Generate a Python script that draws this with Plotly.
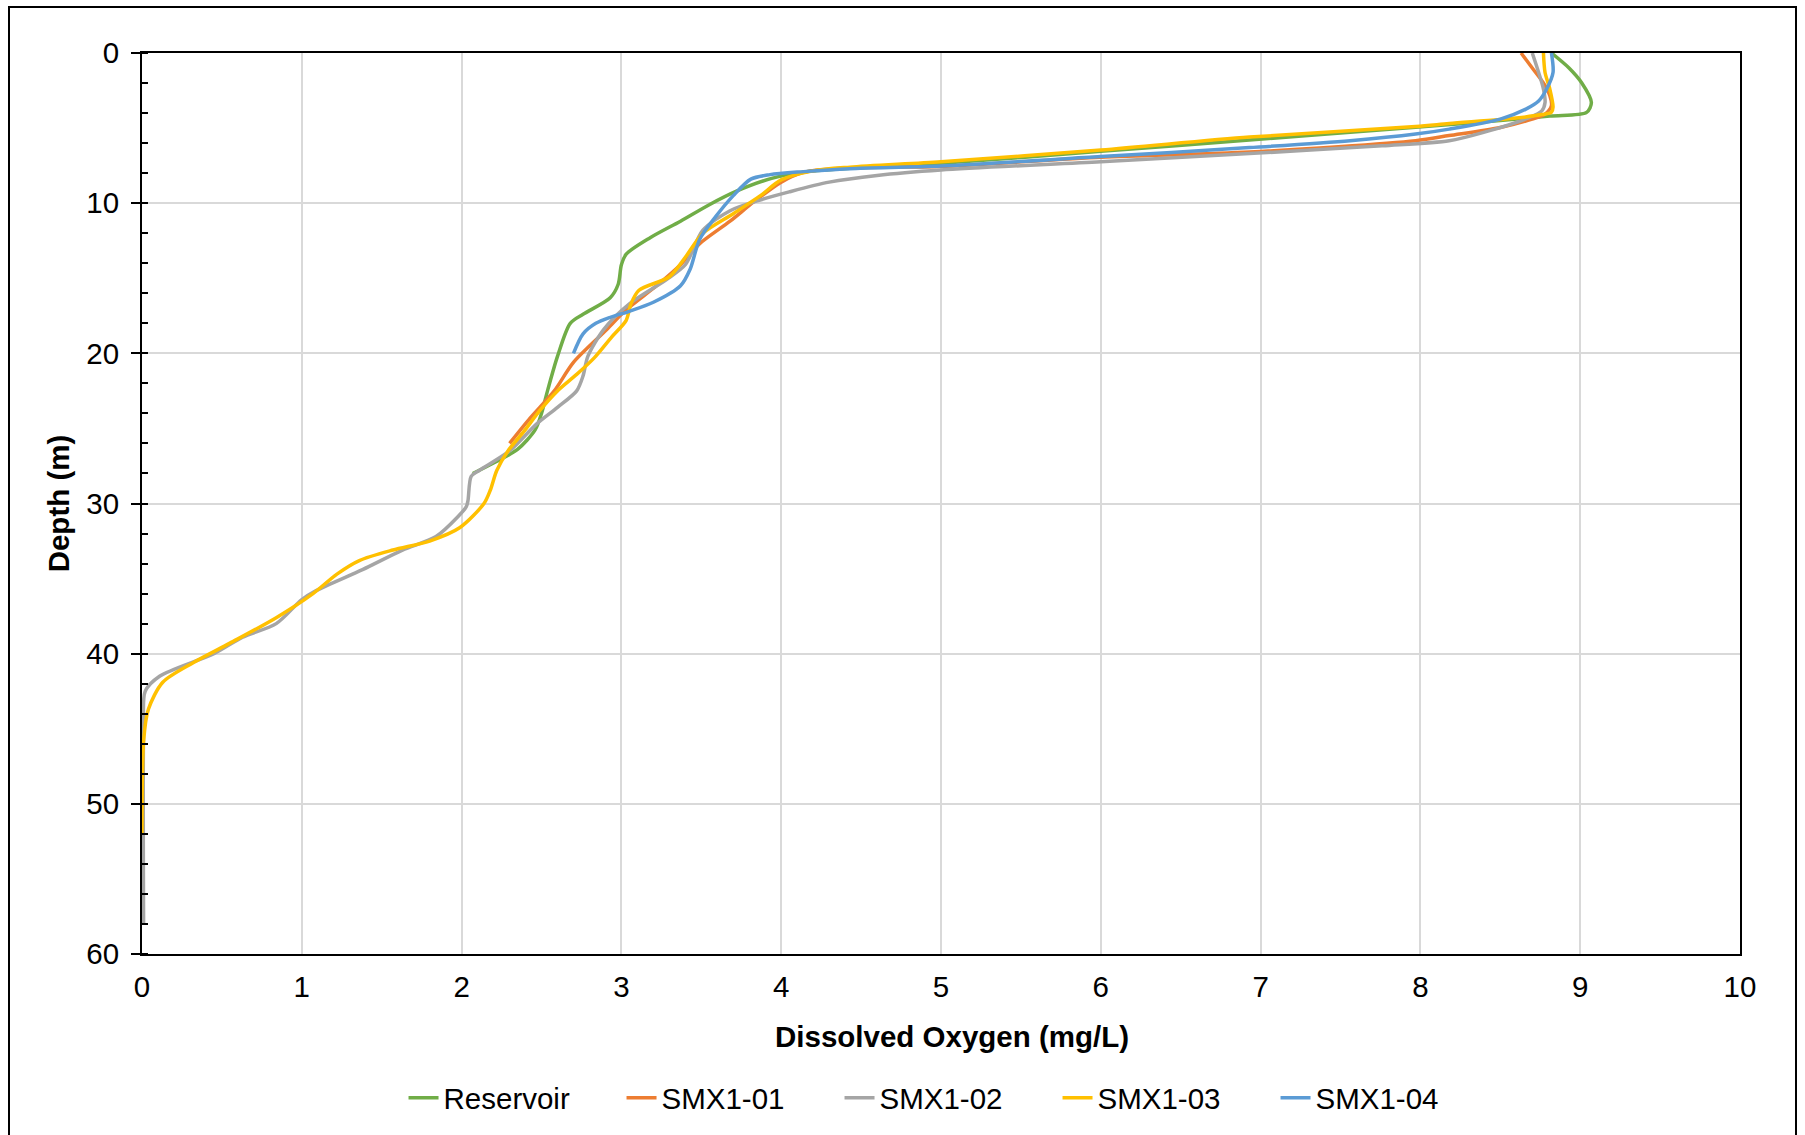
import plotly.graph_objects as go

# ---- data (DO mg/L, depth m) ----
res_do = [8.82, 8.93, 9.01, 9.07, 9.04, 8.81, 8.39, 7.97, 6.93, 6.0, 5.0, 4.16, 3.94, 3.72, 3.55, 3.37, 3.18, 3.03, 3.0, 2.98, 2.93, 2.76, 2.68, 2.60, 2.54, 2.50, 2.46, 2.35, 2.20, 2.07]
res_dp = [0, 1.0, 2.0, 3.3, 3.95, 4.2, 4.6, 4.95, 5.8, 6.55, 7.35, 7.9, 8.35, 9.2, 10.1, 11.2, 12.3, 13.4, 14.1, 15.4, 16.3, 17.4, 18.0, 20.2, 22.4, 24.0, 25.1, 26.4, 27.3, 28.0]

s01_do = [8.63, 8.70, 8.77, 8.81, 8.82, 8.78, 8.70, 8.50, 8.18, 7.97, 6.93, 6.0, 5.0, 4.43, 4.14, 4.0, 3.83, 3.68, 3.49, 3.37, 3.22, 3.03, 2.91, 2.70, 2.58, 2.43, 2.30]
s01_dp = [0, 1.0, 2.0, 2.85, 3.5, 4.07, 4.4, 4.96, 5.5, 5.84, 6.6, 6.95, 7.55, 7.65, 7.95, 8.6, 9.9, 11.2, 12.7, 14.1, 15.5, 17.1, 18.4, 20.6, 22.5, 24.3, 26.0]

s02_do = [8.70, 8.74, 8.77, 8.78, 8.76, 8.68, 8.39, 8.18, 7.76, 6.93, 6.0, 5.0, 4.6, 4.3, 4.05, 3.85, 3.68, 3.51, 3.40, 3.28, 3.05, 2.89, 2.79, 2.76, 2.72, 2.60, 2.47, 2.30, 2.11, 2.06, 2.04, 2.03, 1.975, 1.84, 1.63, 1.38, 1.09, 1.0, 0.84, 0.63, 0.45, 0.11, 0.02, 0.01, 0.01]
s02_dp = [0, 1.3, 2.4, 3.3, 3.85, 4.3, 5.3, 5.84, 6.18, 6.7, 7.24, 7.79, 8.15, 8.6, 9.25, 9.85, 10.5, 11.8, 14.1, 15.1, 16.7, 18.4, 20.2, 21.5, 22.5, 23.6, 24.7, 26.5, 27.8, 28.2, 29.8, 30.2, 30.9, 32.2, 33.1, 34.4, 35.8, 36.4, 38.0, 38.9, 40.0, 41.5, 42.5, 45.0, 58.0]

s03_do = [8.77, 8.78, 8.81, 8.83, 8.82, 8.76, 8.60, 8.18, 7.97, 6.93, 6.0, 5.0, 4.43, 4.2, 4.0, 3.87, 3.70, 3.51, 3.40, 3.30, 3.11, 3.06, 3.03, 2.94, 2.83, 2.72, 2.60, 2.49, 2.39, 2.29, 2.22, 2.18, 2.14, 1.99, 1.80, 1.57, 1.36, 1.22, 1.07, 0.84, 0.55, 0.32, 0.13, 0.04, 0.01, 0.0]
s03_dp = [0, 1.3, 2.4, 3.6, 3.95, 4.1, 4.33, 4.7, 4.9, 5.6, 6.46, 7.24, 7.6, 7.85, 8.45, 9.5, 10.7, 12.0, 13.6, 14.9, 15.8, 16.7, 17.8, 18.9, 20.3, 21.4, 22.5, 23.8, 25.2, 26.5, 27.8, 29.1, 30.0, 31.6, 32.5, 33.1, 33.8, 34.7, 36.0, 37.6, 39.3, 40.6, 41.9, 43.7, 45.8, 52.0]

s04_do = [8.82, 8.83, 8.79, 8.74, 8.66, 8.50, 8.18, 7.97, 7.56, 6.93, 6.0, 5.0, 4.43, 4.14, 3.93, 3.81, 3.70, 3.59, 3.49, 3.43, 3.37, 3.20, 3.05, 2.93, 2.84, 2.76, 2.70]
s04_dp = [0, 1.3, 2.4, 3.2, 3.74, 4.4, 5.07, 5.4, 5.84, 6.3, 6.9, 7.53, 7.7, 7.9, 8.1, 8.4, 9.5, 10.9, 12.4, 14.4, 15.5, 16.6, 17.2, 17.6, 18.0, 18.7, 20.0]

names = ["Reservoir", "SMX1-01", "SMX1-02", "SMX1-03", "SMX1-04"]
colors = ["#70AD47", "#ED7D31", "#A5A5A5", "#FFC000", "#5B9BD5"]
series = [(res_do, res_dp), (s01_do, s01_dp), (s02_do, s02_dp), (s03_do, s03_dp), (s04_do, s04_dp)]

x_ticks = list(range(0, 11))
y_ticks = list(range(0, 61, 10))

FONT = "Liberation Sans, Arial, sans-serif"
FS = 29.5

fig = go.Figure()
for name, col, (xv, yv) in zip(names, colors, series):
    fig.add_trace(go.Scatter(
        x=xv, y=yv, name=name, mode="lines",
        line=dict(color=col, width=3.5, shape="spline", smoothing=0.8),
        hoverinfo="skip",
    ))

pw = 1805 - 142 - 65
ph = 1135 - 53 - 181

fig.update_layout(
    width=1805, height=1135,
    margin=dict(l=142, r=65, t=53, b=181),
    paper_bgcolor="white", plot_bgcolor="white",
    font=dict(family=FONT, size=FS, color="black"),
    showlegend=True,
    legend=dict(
        orientation="h", x=0.5255, xanchor="center", xref="container",
        y=(1135 - 1098) / 1135, yref="container", yanchor="middle",
        font=dict(size=FS, family=FONT),
        entrywidth=173, entrywidthmode="pixels",
        bgcolor="rgba(0,0,0,0)",
    ),
)

fig.update_xaxes(
    range=[0, 10], tickvals=x_ticks, ticktext=[str(v) for v in x_ticks],
    showgrid=True, gridcolor="#D9D9D9", gridwidth=1.5,
    showline=True, linecolor="black", linewidth=2, mirror=True,
    ticks="", zeroline=False,
    tickfont=dict(size=FS, family=FONT), ticklabelstandoff=6,
)
fig.update_yaxes(
    range=[60, 0], tickvals=y_ticks, ticktext=[str(v) for v in y_ticks],
    showgrid=True, gridcolor="#D9D9D9", gridwidth=1.5,
    showline=True, linecolor="black", linewidth=2, mirror=True,
    ticks="outside", ticklen=9, tickwidth=2, tickcolor="black", zeroline=False,
    minor=dict(dtick=2, ticks="inside", ticklen=6, tickwidth=1.5, tickcolor="black", showgrid=False),
    tickfont=dict(size=FS, family=FONT), ticklabelstandoff=6,
    title=dict(text="<b>Depth (m)</b>", font=dict(size=FS, family=FONT), standoff=8),
)

# x-axis title (positioned as in the reference)
fig.add_annotation(
    text="<b>Dissolved Oxygen (mg/L)</b>", xref="paper", yref="paper",
    x=(952 - 142) / pw, y=-(1036 - 53 - ph) / ph,
    xanchor="center", yanchor="middle", showarrow=False,
    font=dict(size=FS, family=FONT, color="black"),
)

# outer chart border
fig.add_shape(type="rect", xref="paper", yref="paper",
              x0=(9 - 142) / pw, x1=(1796 - 142) / pw,
              y0=-(1145 - 53 - ph) / ph, y1=1 + (53 - 7) / ph,
              line=dict(color="black", width=2), fillcolor="rgba(0,0,0,0)", layer="below")

fig.write_html("out.html", config={"displayModeBar": False},
               post_script="document.body.style.margin='0';document.body.style.overflow='hidden';")
